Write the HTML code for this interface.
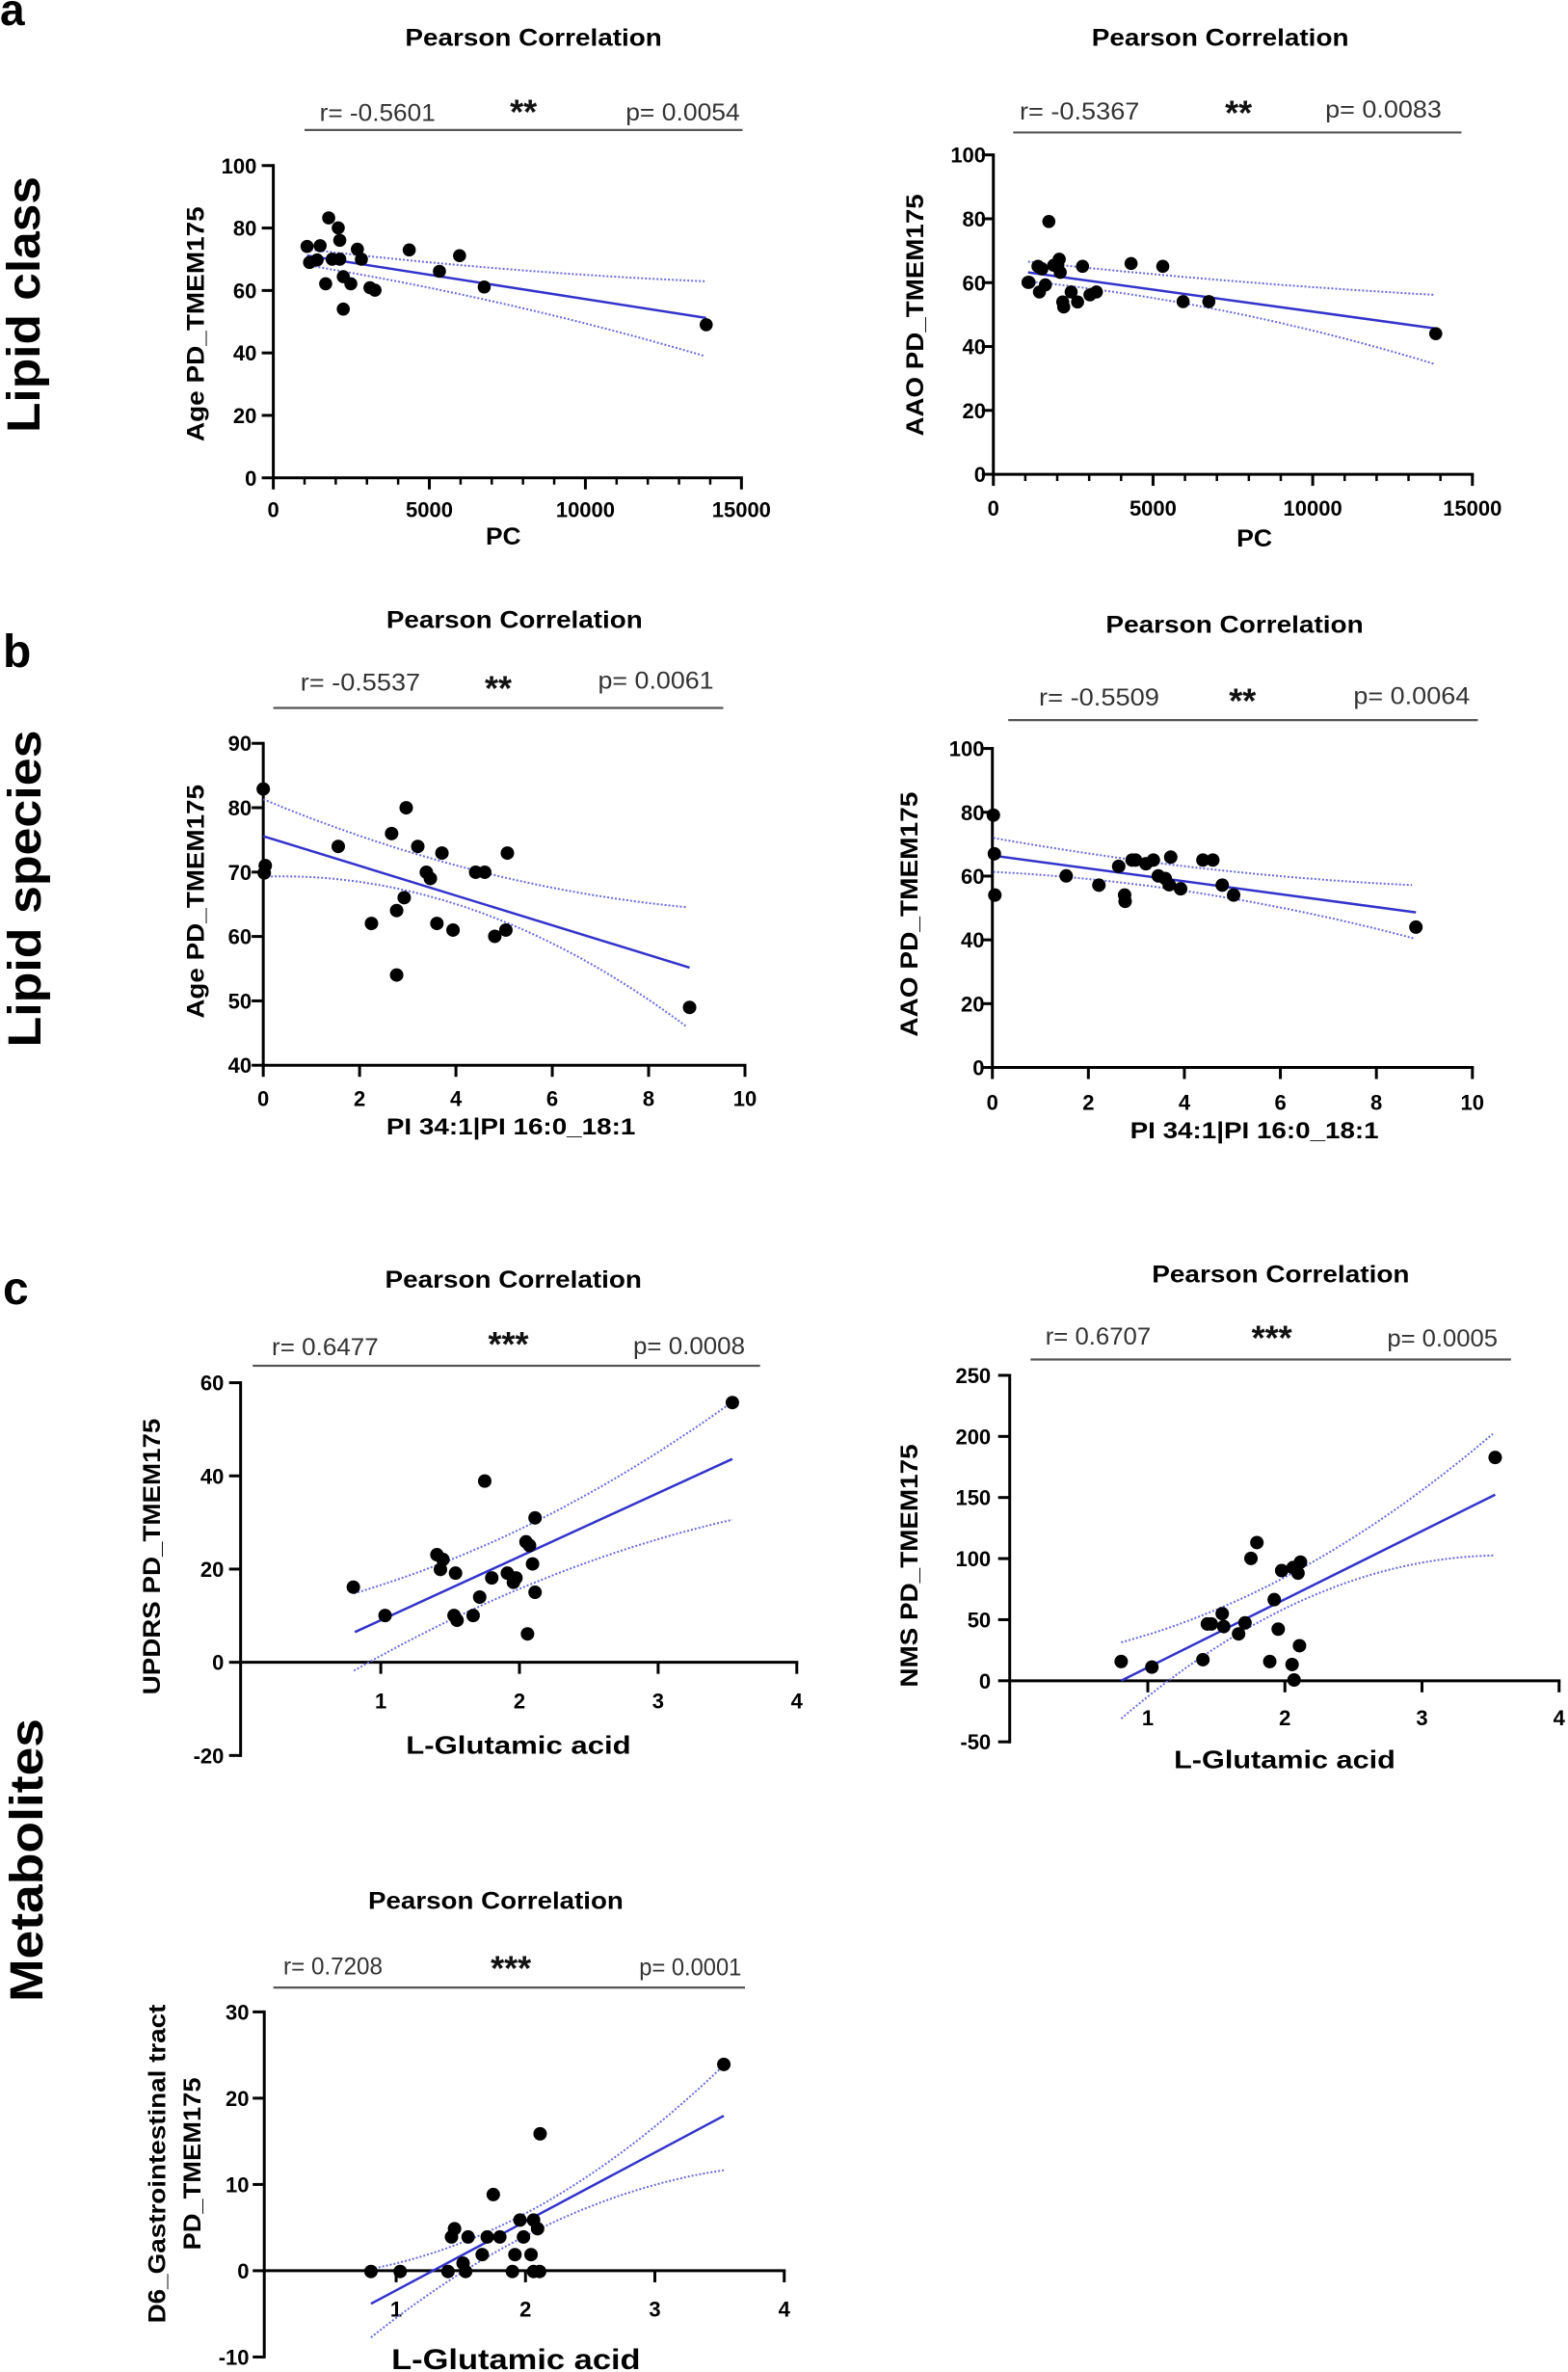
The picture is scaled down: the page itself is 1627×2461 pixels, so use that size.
<!DOCTYPE html>
<html><head><meta charset="utf-8">
<style>
html,body{margin:0;padding:0;background:#fff;}
svg{display:block;}
text{font-family:"Liberation Sans",Arial,sans-serif;}
</style></head>
<body>
<svg id="s" xmlns="http://www.w3.org/2000/svg" width="1627" height="2461" viewBox="0 0 1627 2461">
<rect width="1627" height="2461" fill="#fff"/>
<text x="0" y="26" font-size="46" font-weight="bold">a</text>
<text x="3" y="692" font-size="48" font-weight="bold">b</text>
<text x="3" y="1353" font-size="48" font-weight="bold">c</text>
<text transform="translate(41,316) rotate(-90)" text-anchor="middle" font-size="48" font-weight="bold" textLength="266" lengthAdjust="spacingAndGlyphs">Lipid class</text>
<text transform="translate(42,922) rotate(-90)" text-anchor="middle" font-size="48" font-weight="bold" textLength="329" lengthAdjust="spacingAndGlyphs">Lipid species</text>
<text transform="translate(44,1930) rotate(-90)" text-anchor="middle" font-size="48" font-weight="bold" textLength="294" lengthAdjust="spacingAndGlyphs">Metabolites</text>
</svg>
<script>
var svg=document.getElementById('s');var NS='http://www.w3.org/2000/svg';
function el(n,a,t){var e=document.createElementNS(NS,n);for(var k in a)e.setAttribute(k,a[k]);if(t!==undefined)e.textContent=t;svg.appendChild(e);return e;}
var S=1570;
function panel(p){
 var kx=p.cw/S,ky=p.ch/S;
 function X(z){return p.ox+z*kx;} function Y(z){return p.oy+z*ky;}
 var t=p.title;
 el('text',{x:X(t[0]),y:Y(t[1]),'text-anchor':'middle','font-size':25,'font-weight':'bold',textLength:(t[3]-t[2])*kx,lengthAdjust:'spacingAndGlyphs'},'Pearson Correlation');
 var s=p.stat;
 el('line',{x1:X(s.line[1]),x2:X(s.line[2]),y1:Y(s.line[0]),y2:Y(s.line[0]),stroke:'#555','stroke-width':2.2});
 el('text',{x:X(s.r[0]),y:Y(s.r[2]),'font-size':25,fill:'#333',textLength:(s.r[1]-s.r[0])*kx,lengthAdjust:'spacingAndGlyphs'},s.r[3]);
 el('text',{x:X(s.p[1]),y:Y(s.p[2]),'text-anchor':'end','font-size':25,fill:'#333',textLength:(s.p[1]-s.p[0])*kx,lengthAdjust:'spacingAndGlyphs'},s.p[3]);
 el('text',{x:X(s.star[0]),y:Y(s.star[1])+12,'text-anchor':'middle','font-size':36,'font-weight':'bold',fill:'#111'},s.star[2]);
 var xa=p.xa,ya=p.ya;
 function XV(v){return X(xa.z0+(v-xa.v0)*(xa.z1-xa.z0)/(xa.v1-xa.v0));}
 function YV(v){return Y(ya.z0+(v-ya.v0)*(ya.z1-ya.z0)/(ya.v1-ya.v0));}
 var axY=YV(xa.at), axX=X(ya.xz);
 el('line',{x1:axX,x2:axX,y1:YV(ya.v1)-1.5,y2:YV(ya.v0)+1.5,stroke:'#000','stroke-width':3});
 el('line',{x1:axX,x2:XV(xa.v1)+1.5,y1:axY,y2:axY,stroke:'#000','stroke-width':3});
 ya.ticks.forEach(function(v){var y=YV(v);el('line',{x1:axX-12,x2:axX,y1:y,y2:y,stroke:'#000','stroke-width':3});
  el('text',{x:X(ya.lab),y:y+8,'text-anchor':'end','font-size':22,'font-weight':'bold'},String(v));});
 xa.ticks.forEach(function(v){var x=XV(v);el('line',{x1:x,x2:x,y1:axY,y2:axY+12,stroke:'#000','stroke-width':3});
  el('text',{x:x,y:Y(xa.lab)+1,'text-anchor':'middle','font-size':22,'font-weight':'bold'},String(v));});
 (xa.minor||[]).forEach(function(v){var x=XV(v);el('line',{x1:x,x2:x,y1:axY,y2:axY+7,stroke:'#000','stroke-width':2.5});});
 var xl=p.xl;
 el('text',{x:X(xl[0]),y:Y(xl[1]),'text-anchor':'middle','font-size':xl[5]||25,'font-weight':'bold',textLength:(xl[3]-xl[2])*kx,lengthAdjust:'spacingAndGlyphs'},xl[4]);
 p.yl.forEach(function(l){
  el('text',{transform:'translate('+X(l[0])+','+Y((l[1]+l[2])/2)+') rotate(-90)','text-anchor':'middle','font-size':25,'font-weight':'bold',textLength:(l[2]-l[1])*ky,lengthAdjust:'spacingAndGlyphs'},l[3]);});
 function para(a,b,c){var pts=[];for(var i=0;i<=40;i++){var x=a[0]+(c[0]-a[0])*i/40;
  var y=a[1]*(x-b[0])*(x-c[0])/((a[0]-b[0])*(a[0]-c[0]))+b[1]*(x-a[0])*(x-c[0])/((b[0]-a[0])*(b[0]-c[0]))+c[1]*(x-a[0])*(x-b[0])/((c[0]-a[0])*(c[0]-b[0]));
  pts.push(X(x).toFixed(1)+','+Y(y).toFixed(1));}return pts.join(' ');}
 el('polyline',{points:para.apply(null,p.up),fill:'none',stroke:'#6a6ae0','stroke-width':2,'stroke-dasharray':'2 2'});
 el('polyline',{points:para.apply(null,p.lo),fill:'none',stroke:'#6a6ae0','stroke-width':2,'stroke-dasharray':'2 2'});
 el('line',{x1:X(p.line[0]),y1:Y(p.line[1]),x2:X(p.line[2]),y2:Y(p.line[3]),stroke:'#3333cc','stroke-width':2.5});
 p.pts.forEach(function(q){el('circle',{cx:X(q[0]),cy:Y(q[1]),r:p.r||7,fill:'#000'});});
}
function rng(a,b,s){var r=[];for(var v=a;v<=b+1e-9;v+=s)r.push(Math.round(v*100)/100);return r;}
panel({ox:0,oy:0,cw:820,ch:580,r:6.8,
 title:[1060,128,805,1315],
 stat:{line:[365,605,1475],r:[635,865,340,'r= -0.5601'],star:[1040,315,'**'],p:[1243,1470,338,'p= 0.0054']},
 xa:{z0:543,z1:1473,v0:0,v1:15000,at:0,ticks:[0,5000,10000,15000],minor:rng(1000,14000,1000),lab:1450},
 ya:{xz:543,z0:1342,z1:465,v0:0,v1:100,ticks:[0,20,40,60,80,100],lab:510},
 xl:[1000,1530,965,1035,'PC'],
 yl:[[405,580,1240,'Age PD_TMEM175']],
 pts:[[610,692],[615,737],[630,730],[636,690],[653,612],[672,640],[675,675],[660,728],[675,728],[647,797],[682,777],[697,797],[682,868],[710,700],[718,728],[735,808],[745,815],[813,702],[873,762],[913,718],[962,806],[1403,912]],
 line:[610,718,1403,893],up:[[610,700],[1000,755],[1400,790]],lo:[[610,745],[1000,853],[1400,1000]]});
panel({ox:820,oy:0,cw:807,ch:580,r:6.8,
 title:[868,128,608,1127],
 stat:{line:[372,450,1355],r:[463,705,335,'r= -0.5367'],star:[905,318,'**'],p:[1080,1315,330,'p= 0.0083']},
 xa:{z0:410,z1:1377,v0:0,v1:15000,at:0,ticks:[0,5000,10000,15000],minor:rng(1000,14000,1000),lab:1445},
 ya:{xz:410,z0:1332,z1:435,v0:0,v1:100,ticks:[0,20,40,60,80,100],lab:395},
 xl:[937,1535,900,972,'PC'],
 yl:[[268,545,1225,'AAO PD_TMEM175']],
 pts:[[480,793],[482,793],[500,748],[508,755],[503,820],[515,800],[522,622],[532,745],[543,728],[545,765],[540,745],[550,848],[552,862],[567,820],[580,848],[590,748],[605,828],[618,820],[688,740],[752,748],[793,847],[845,847],[1303,937]],
 line:[480,765,1300,922],up:[[480,735],[900,790],[1300,828]],lo:[[480,790],[900,880],[1300,1022]]});
panel({ox:0,oy:600,cw:820,ch:600,
 title:[1022,135,768,1277],
 stat:{line:[352,543,1437],r:[597,835,305,'r= -0.5537'],star:[990,300,'**'],p:[1188,1418,300,'p= 0.0061']},
 xa:{z0:523,z1:1480,v0:0,v1:10,at:40,ticks:[0,2,4,6,8,10],lab:1430},
 ya:{xz:523,z0:1322,z1:448,v0:40,v1:90,ticks:[40,50,60,70,80,90],lab:500},
 xl:[1015,1510,770,1265,'PI 34:1|PI 16:0_18:1',24],
 yl:[[405,560,1195,'Age PD_TMEM175']],
 pts:[[523,572],[527,780],[525,800],[672,728],[778,693],[807,623],[830,728],[878,746],[847,798],[855,815],[803,867],[788,902],[738,937],[868,937],[900,955],[945,798],[963,798],[1008,746],[983,972],[1005,955],[788,1077],[1370,1165]],
 line:[523,700,1370,1057],up:[[523,600],[950,795],[1365,893]],lo:[[523,810],[950,905],[1365,1218]]});
panel({ox:820,oy:600,cw:807,ch:600,
 title:[897,148,637,1157],
 stat:{line:[385,440,1388],r:[502,745,345,'r= -0.5509'],star:[913,333,'**'],p:[1137,1372,342,'p= 0.0064']},
 xa:{z0:408,z1:1377,v0:0,v1:10,at:0,ticks:[0,2,4,6,8,10],lab:1440},
 ya:{xz:408,z0:1328,z1:462,v0:0,v1:100,ticks:[0,20,40,60,80,100],lab:392},
 xl:[937,1520,688,1190,'PI 34:1|PI 16:0_18:1',24],
 yl:[[257,580,1245,'AAO PD_TMEM175']],
 pts:[[410,643],[412,748],[413,860],[557,808],[623,833],[663,782],[690,765],[697,765],[675,860],[676,877],[718,775],[733,765],[743,808],[757,815],[765,832],[768,757],[788,843],[833,765],[853,765],[872,833],[895,860],[1263,947]],
 line:[410,753,1263,907],up:[[410,705],[850,790],[1255,833]],lo:[[410,797],[850,860],[1260,978]]});
panel({ox:0,oy:1250,cw:820,ch:600,
 title:[1020,225,765,1275],
 stat:{line:[437,502,1510],r:[540,752,408,'r= 0.6477'],star:[1010,380,'***'],p:[1258,1480,405,'p= 0.0008']},
 xa:{z0:481,z1:1583,v0:0,v1:4,at:0,ticks:[1,2,3,4],lab:1365},
 ya:{xz:478,z0:1495,z1:483,v0:-20,v1:60,ticks:[-20,0,20,40,60],lab:445},
 xl:[1030,1490,808,1255,'L-Glutamic acid',26],
 yl:[[318,580,1330,'UPDRS PD_TMEM175']],
 pts:[[702,1038],[765,1115],[868,950],[880,963],[875,990],[905,1000],[902,1115],[908,1128],[940,1115],[953,1065],[963,750],[977,1013],[1008,1000],[1020,1025],[1025,1013],[1045,915],[1052,925],[1058,975],[1063,850],[1063,1052],[1048,1165],[1455,537]],
 line:[705,1160,1455,690],up:[[703,1055],[1100,835],[1455,535]],lo:[[703,1265],[1100,1005],[1455,855]]});
panel({ox:820,oy:1250,cw:807,ch:600,
 title:[990,210,730,1250],
 stat:{line:[420,485,1455],r:[515,728,380,'r= 0.6707'],star:[972,362,'***'],p:[1205,1428,385,'p= 0.0005']},
 xa:{z0:445,z1:1552,v0:0,v1:4,at:0,ticks:[1,2,3,4],lab:1410},
 ya:{xz:443,z0:1458,z1:463,v0:-50,v1:250,ticks:[-50,0,50,100,150,200,250],lab:405},
 xl:[998,1530,775,1222,'L-Glutamic acid',26],
 yl:[[257,650,1310,'NMS PD_TMEM175']],
 pts:[[668,1240],[730,1255],[833,1235],[842,1138],[850,1138],[872,1110],[875,1145],[905,1165],[918,1135],[930,960],[942,917],[968,1240],[977,1072],[985,1152],[992,993],[1013,1248],[1015,985],[1025,1000],[1030,970],[1028,1197],[1017,1290],[1423,686]],
 line:[668,1292,1423,787],up:[[668,1188],[1000,1010],[1418,622]],lo:[[668,1395],[1000,1095],[1420,952]]});
panel({ox:0,oy:1850,cw:820,ch:611,
 title:[985,335,733,1240],
 stat:{line:[545,543,1480],r:[563,760,510,'r= 0.7208'],star:[1015,495,'***'],p:[1270,1473,512,'p= 0.0001']},
 xa:{z0:530,z1:1558,v0:0,v1:4,at:0,ticks:[1,2,3,4],lab:1420},
 ya:{xz:525,z0:1530,z1:610,v0:-10,v1:30,ticks:[-10,0,10,20,30],lab:495},
 xl:[1025,1562,775,1270,'L-Glutamic acid',30],
 yl:[[328,590,1440,'D6_Gastrointestinal tract'],[398,785,1245,'PD_TMEM175']],
 pts:[[737,1302],[795,1302],[890,1302],[925,1302],[920,1280],[897,1210],[903,1188],[930,1210],[958,1257],[968,1210],[993,1210],[980,1097],[1018,1302],[1023,1257],[1033,1165],[1040,1210],[1055,1257],[1060,1165],[1068,1188],[1060,1302],[1072,1302],[1073,935],[1438,750]],
 line:[737,1388,1438,887],up:[[737,1295],[1040,1150],[1438,752]],lo:[[737,1478],[1040,1210],[1438,1032]]});
</script>
</body></html>
